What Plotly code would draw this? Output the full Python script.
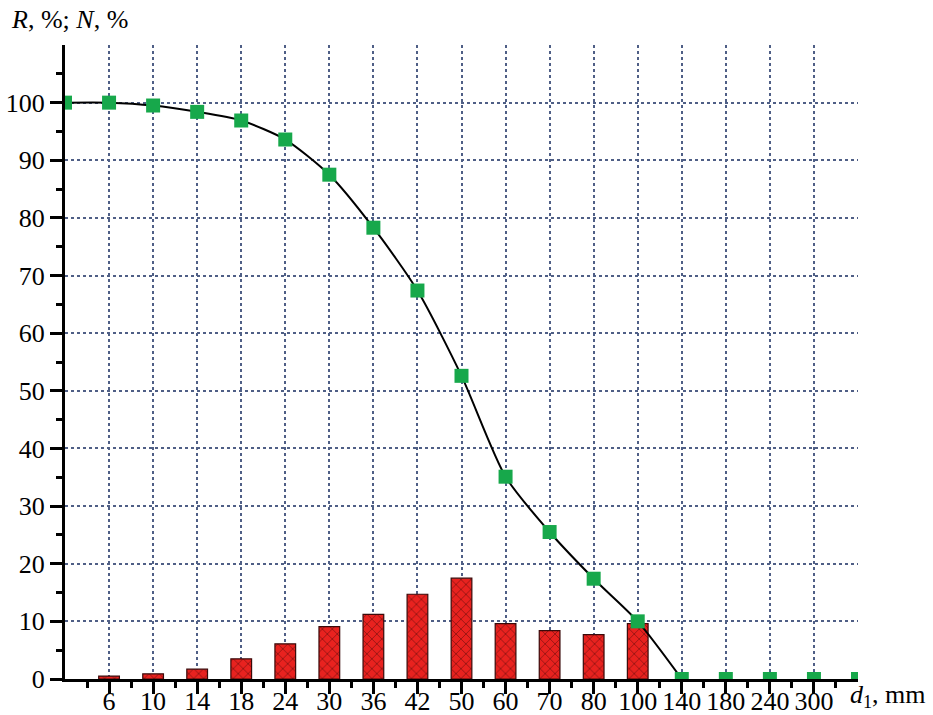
import plotly.graph_objects as go

# Data
d_labels = ["6", "10", "14", "18", "24", "30", "36", "42", "50", "60", "70",
            "80", "100", "140", "180", "240", "300"]
# R, % at positions 0 .. 18 (0 = axis origin, 1..17 = labelled classes, 18 = axis end)
R_values = [100, 100, 99.5, 98.4, 96.9, 93.6, 87.5, 78.3, 67.4, 52.6, 35.1, 25.5,
            17.4, 10.0, 0, 0, 0, 0, 0]
# N, % for classes 6 .. 100
N_values = [0.5, 0.9, 1.7, 3.5, 6.1, 9.1, 11.2, 14.7, 17.5, 9.6, 8.4, 7.7, 9.6]

R_pos = list(range(len(R_values)))
N_pos = list(range(1, len(N_values) + 1))
line_count = 15  # smooth curve drawn through 0 .. 140

FONT = "'Liberation Serif', 'Times New Roman', serif"
GRID = "#4f5f86"
FS = 26

fig = go.Figure()

fig.add_trace(go.Bar(
    x=N_pos, y=N_values, width=0.47,
    marker=dict(color="#e8221f",
                line=dict(color="#3a0a0a", width=1.2),
                pattern=dict(shape="x", fgcolor="#4a0808", bgcolor="#e8221f",
                             size=7, solidity=0.25)),
    showlegend=False,
))

fig.add_trace(go.Scatter(
    x=R_pos[:line_count], y=R_values[:line_count], mode="lines",
    line=dict(color="black", width=2, shape="spline", smoothing=0.7),
    showlegend=False,
))

fig.add_trace(go.Scatter(
    x=R_pos, y=R_values, mode="markers",
    marker=dict(symbol="square", size=14, color="#17a84b"),
    showlegend=False,
))

fig.update_layout(
    width=933, height=715,
    margin=dict(l=65, r=75, t=45, b=36),
    plot_bgcolor="white", paper_bgcolor="white",
    font=dict(family=FONT, size=FS, color="black"),
    xaxis=dict(
        range=[0, 18], tickmode="array", automargin=False,
        tickvals=list(range(1, len(d_labels) + 1)), ticktext=d_labels,
        showline=True, linecolor="black", linewidth=3,
        ticks="outside", ticklen=12, tickwidth=2.5, tickcolor="black",
        ticklabelstandoff=-15,
        showgrid=True, gridcolor=GRID, griddash="dot", gridwidth=1.5,
        zeroline=False,
        tickfont=dict(family=FONT, size=FS, color="black"),
        minor=dict(tick0=0.5, dtick=1, ticks="outside", ticklen=6,
                   tickwidth=2.5, tickcolor="black", showgrid=False),
    ),
    yaxis=dict(
        range=[0, 110], tickmode="array", automargin=False,
        tickvals=list(range(0, 101, 10)),
        showline=True, linecolor="black", linewidth=3,
        ticks="outside", ticklen=12, tickwidth=2.5, tickcolor="black",
        showgrid=True, gridcolor=GRID, griddash="dot", gridwidth=1.5,
        zeroline=False,
        tickfont=dict(family=FONT, size=FS, color="black"),
        minor=dict(tick0=5, dtick=10, ticks="outside", ticklen=6,
                   tickwidth=2.5, tickcolor="black", showgrid=False),
    ),
    annotations=[
        dict(text="<i>R</i>, %; <i>N</i>, %", xref="paper", yref="paper",
             x=-0.071, y=1.04, xanchor="left", yanchor="middle",
             showarrow=False, font=dict(family=FONT, size=FS, color="black")),
        dict(text="<i>d</i><sub>1</sub>, mm", xref="paper", yref="paper",
             x=0.988, y=-0.027, xanchor="left", yanchor="middle",
             showarrow=False, font=dict(family=FONT, size=FS, color="black")),
    ],
)

fig.write_html("out.html")
